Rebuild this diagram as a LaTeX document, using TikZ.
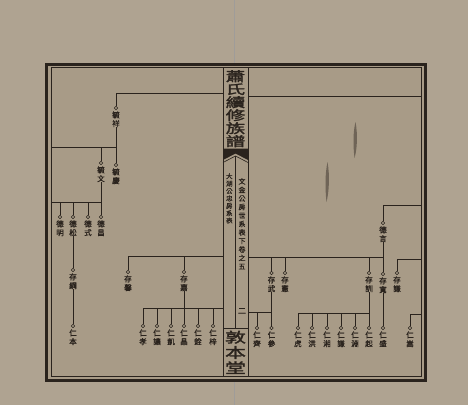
\documentclass[tikz,border=0pt]{standalone}
\usepackage{fontspec}
\newfontfamily\cjk[FakeBold=0.8]{Noto Sans CJK TC}
\newfontfamily\cjkt[FakeBold=2,FakeStretch=1.5]{Noto Sans CJK TC}
\newfontfamily\cjkm[FakeBold=1.3]{Noto Sans CJK TC}
\definecolor{paper}{HTML}{AFA391}
\definecolor{paperin}{HTML}{A89B87}
\definecolor{ink}{HTML}{2A231D}
\tikzset{
  ln/.style={draw=ink,line width=0.8pt},
  dot/.style={circle,draw=ink,fill=paperin,line width=0.6pt,inner sep=0pt,minimum size=3.4pt},
  nm/.style={anchor=north,yshift=-1.2pt,inner sep=0pt,text=ink,align=center,
    font={\cjkm\fontsize{7.5}{8.8}\selectfont}},
  coltext/.style={anchor=north,inner sep=0pt,text=ink,align=center},
  smudge/.style={fill=ink,opacity=0.45},
}
\newcommand{\pn}[5]{\node[dot] (#1) at (#2,#3) {};\node[nm] (#1t) at (#1.south) {#4\\#5};}
\begin{document}
\begin{tikzpicture}[x=1pt,y=-1pt]
\useasboundingbox (0,0) rectangle (468,405);
\fill[paper] (0,0) rectangle (468,405);
\fill[paperin] (46.5,64) rectangle (425,380);
% page fold
\draw[ink!45,line width=0.6pt] (234.5,0) -- (234.5,64);
\draw[ink!45,line width=0.6pt] (234.5,380) -- (234.5,405);
% ink streaks of the scan
\fill[smudge] (355.5,122) .. controls (358,135) and (357,150) .. (354.5,158) .. controls (353,145) and (353,132) .. (355.5,122) -- cycle;
\fill[smudge] (327.5,162) .. controls (330,176) and (329,192) .. (326.5,202) .. controls (325,188) and (325,174) .. (327.5,162) -- cycle;
% frame
\draw[ink,line width=3pt] (46.5,64) rectangle (425,380);
\draw[ink,line width=0.8pt] (51,67.5) rectangle (421,376.5);
% center column
\draw[ink,line width=0.9pt] (223,67.5) -- (223,376.5);
\draw[ink,line width=0.9pt] (248,67.5) -- (248,376.5);
\node[coltext,font={\cjkt\fontsize{13}{13}\selectfont}] (title) at (235.5,70) {蕭\\氏\\續\\修\\族\\譜};
\fill[ink] (223,148.5) -- (248,148.5) -- (248,160) -- (235.5,153.5) -- (223,160) -- cycle;
\draw[ink,line width=0.6pt] (223,162.5) -- (235.5,156) -- (248,162.5);
\draw[ink,line width=0.7pt] (235.5,156) -- (235.5,328.5);
\node[coltext,font={\cjk\fontsize{6.5}{7.4}\selectfont}] (sub1) at (229.3,173) {大\\湖\\公\\忠\\房\\系\\表};
\node[coltext,font={\cjk\fontsize{7}{8.5}\selectfont}] (sub2) at (242,178) {文\\金\\公\\房\\世\\系\\表\\下\\卷\\之\\五};
\node[coltext,font={\cjk\fontsize{8}{8}\selectfont}] (pg) at (242,308) {二};
\draw[ink,line width=0.9pt] (223,328.5) -- (248,328.5);
\node[coltext,font={\cjkt\fontsize{14}{15.3}\selectfont}] (hall) at (235.5,330.5) {敦\\本\\堂};
% ---------- left page ----------
\pn{a1}{116}{108}{毓}{祥}
\pn{a2}{116}{165}{毓}{慶}
\pn{a3}{101}{163}{毓}{文}
\pn{b1}{60}{217}{德}{明}
\pn{b2}{73}{217}{德}{松}
\pn{b3}{88}{217}{德}{式}
\pn{b4}{101}{217}{德}{昌}
\pn{c1}{73}{270}{存}{綱}
\pn{d1}{73}{326}{仁}{本}
\pn{c2}{128}{272}{存}{馨}
\pn{c3}{184}{272}{存}{嘉}
\pn{d2}{143}{326}{仁}{孝}
\pn{d3}{157}{326}{仁}{讓}
\pn{d4}{171}{326}{仁}{凱}
\pn{d5}{184}{326}{仁}{晶}
\pn{d6}{198}{326}{仁}{銓}
\pn{d7}{213}{326}{仁}{梓}
\coordinate (L1a) at (116,93); \coordinate (L1b) at (223,93);
\draw[ln] (L1a) -- (L1b); \draw[ln] (L1a) -- (a1.north);
\draw[ln] (a1t.south) -- (a2.north);
\coordinate (L2a) at (51,147); \coordinate (L2b) at (116,147); \coordinate (L2c) at (101,147);
\draw[ln] (L2a) -- (L2b); \draw[ln] (L2c) -- (a3.north);
\draw[ln] (a3t.south) -- (b4.north);
\coordinate (L3a) at (51,202); \coordinate (L3b) at (101,202);
\coordinate (L3c) at (60,202); \coordinate (L3d) at (73,202); \coordinate (L3e) at (88,202);
\draw[ln] (L3a) -- (L3b);
\draw[ln] (L3c) -- (b1.north); \draw[ln] (L3d) -- (b2.north); \draw[ln] (L3e) -- (b3.north);
\draw[ln] (b2t.south) -- (c1.north); \draw[ln] (c1t.south) -- (d1.north);
\coordinate (L4a) at (128,256); \coordinate (L4b) at (223,256); \coordinate (L4c) at (184,256);
\draw[ln] (L4a) -- (L4b); \draw[ln] (L4a) -- (c2.north); \draw[ln] (L4c) -- (c3.north);
\draw[ln] (c3t.south) -- (d5.north);
\coordinate (L5a) at (143,308); \coordinate (L5b) at (223,308);
\coordinate (L5c) at (157,308); \coordinate (L5d) at (171,308);
\coordinate (L5e) at (198,308); \coordinate (L5f) at (213,308);
\draw[ln] (L5a) -- (L5b); \draw[ln] (L5a) -- (d2.north); \draw[ln] (L5c) -- (d3.north);
\draw[ln] (L5d) -- (d4.north); \draw[ln] (L5e) -- (d6.north); \draw[ln] (L5f) -- (d7.north);
% ---------- right page ----------
\pn{e1}{383}{223}{德}{言}
\pn{f1}{271.5}{273}{存}{武}
\pn{f2}{285}{273}{存}{憲}
\pn{f3}{369}{273}{存}{訓}
\pn{f4}{383}{274}{存}{寬}
\pn{f5}{397}{273}{存}{謙}
\pn{g1}{257}{328}{仁}{齊}
\pn{g2}{271.5}{328}{仁}{參}
\pn{g3}{298}{328}{仁}{虎}
\pn{g4}{312}{328}{仁}{洪}
\pn{g5}{327}{328}{仁}{湘}
\pn{g6}{341}{328}{仁}{謙}
\pn{g7}{355}{328}{仁}{淵}
\pn{g8}{369}{328}{仁}{起}
\pn{g9}{383}{328}{仁}{盛}
\pn{g10}{410}{328}{仁}{嵩}
\coordinate (R1a) at (248,96); \coordinate (R1b) at (421,96);
\draw[ln] (R1a) -- (R1b);
\coordinate (R2a) at (383,205); \coordinate (R2b) at (421,205);
\draw[ln] (R2a) -- (R2b); \draw[ln] (R2a) -- (e1.north);
\draw[ln] (e1t.south) -- (f4.north);
\coordinate (R3a) at (248,257); \coordinate (R3b) at (383,257);
\coordinate (R3c) at (271.5,257); \coordinate (R3d) at (285,257); \coordinate (R3e) at (369,257);
\draw[ln] (R3a) -- (R3b);
\draw[ln] (R3c) -- (f1.north); \draw[ln] (R3d) -- (f2.north); \draw[ln] (R3e) -- (f3.north);
\coordinate (R3f) at (397,259); \coordinate (R3g) at (421,259);
\draw[ln] (R3f) -- (R3g); \draw[ln] (R3f) -- (f5.north);
\coordinate (R4a) at (248,312); \coordinate (R4b) at (271.5,312); \coordinate (R4c) at (257,312);
\draw[ln] (R4a) -- (R4b); \draw[ln] (R4c) -- (g1.north);
\draw[ln] (f1t.south) -- (g2.north);
\coordinate (R5a) at (298,313); \coordinate (R5b) at (369,313);
\coordinate (R5c) at (312,313); \coordinate (R5d) at (327,313);
\coordinate (R5e) at (341,313); \coordinate (R5f) at (355,313);
\draw[ln] (R5a) -- (R5b); \draw[ln] (R5a) -- (g3.north); \draw[ln] (R5c) -- (g4.north);
\draw[ln] (R5d) -- (g5.north); \draw[ln] (R5e) -- (g6.north); \draw[ln] (R5f) -- (g7.north);
\draw[ln] (f3t.south) -- (g8.north);
\draw[ln] (f4t.south) -- (g9.north);
\coordinate (R6a) at (410,314); \coordinate (R6b) at (421,314);
\draw[ln] (R6a) -- (R6b); \draw[ln] (R6a) -- (g10.north);
\end{tikzpicture}
\end{document}
